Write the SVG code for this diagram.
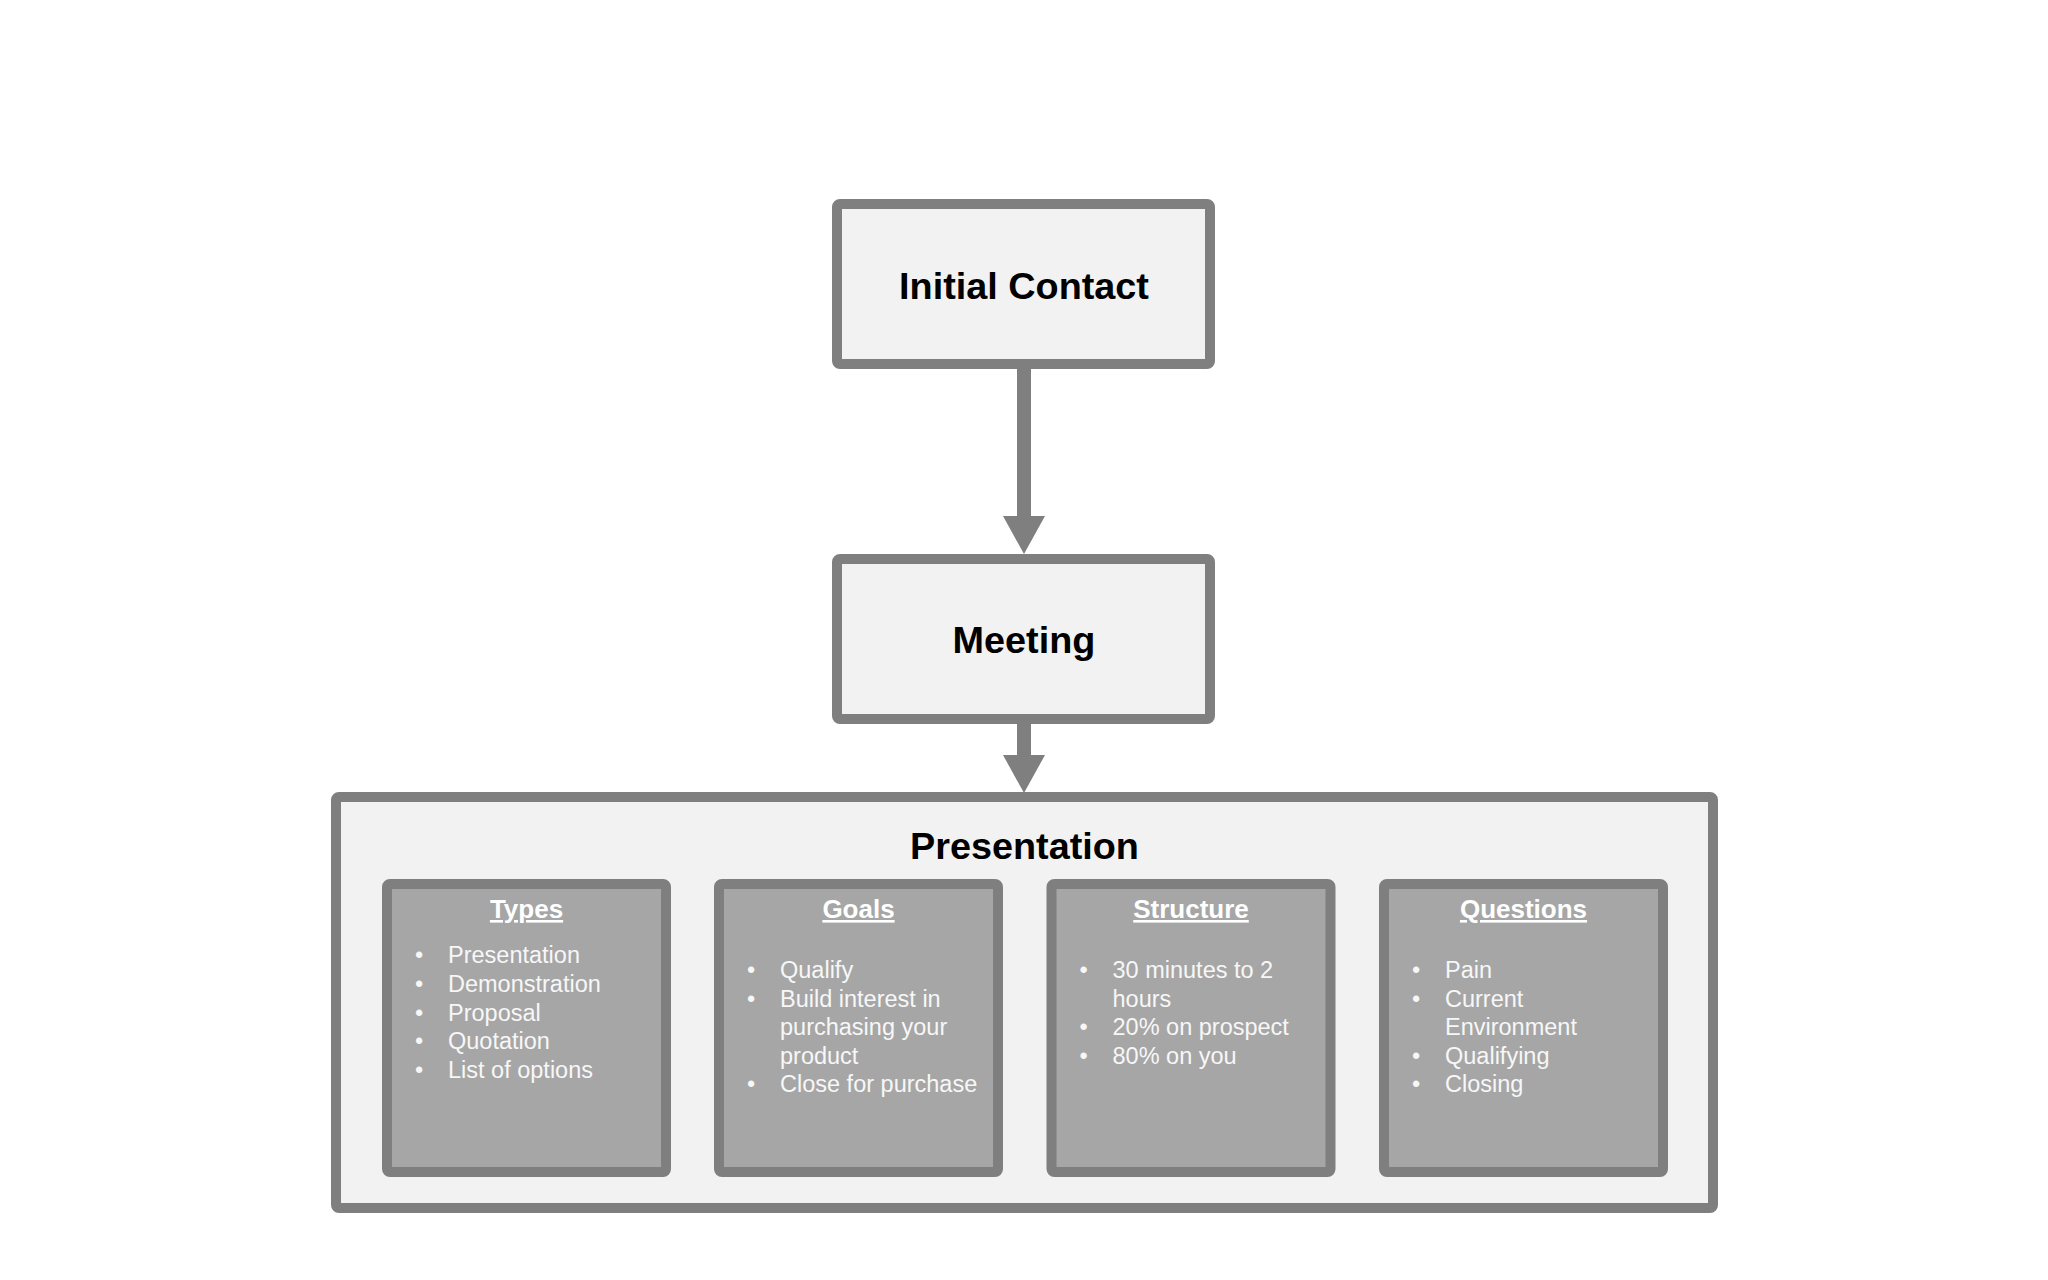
<svg xmlns="http://www.w3.org/2000/svg" width="2048" height="1280" viewBox="0 0 2048 1280">
  <style>
    .box { fill: #f2f2f2; stroke: #7f7f7f; stroke-width: 10; }
    .sub { fill: #a6a6a6; stroke: #7f7f7f; stroke-width: 10; }
    .title { font-family: "Liberation Sans", Arial, sans-serif; font-weight: bold; font-size: 37.8px; fill: #000000; text-anchor: middle; }
    .head { font-family: "Liberation Sans", Arial, sans-serif; font-weight: bold; font-size: 26px; fill: #ffffff; text-anchor: middle; text-decoration: underline; }
    .item { font-family: "Liberation Sans", Arial, sans-serif; font-size: 23.5px; fill: #f7f7f7; }
    .bullet { font-family: "Liberation Sans", Arial, sans-serif; font-size: 23.5px; fill: #f7f7f7; text-anchor: middle; }
    .conn { stroke: #7f7f7f; stroke-width: 14; fill: none; }
  </style>
  <defs>
    <marker id="arrow" markerUnits="userSpaceOnUse" viewBox="0 0 38 42" markerWidth="38" markerHeight="42" refX="0" refY="21" orient="auto">
      <path d="M0,0 L38,21 L0,42 z" fill="#7f7f7f"/>
    </marker>
  </defs>
  <rect width="2048" height="1280" fill="#ffffff"/>

  <g id="connectors">
    <path class="conn" d="M1024,369 L1024,516" marker-end="url(#arrow)"/>
    <path class="conn" d="M1024,724 L1024,755" marker-end="url(#arrow)"/>
  </g>

  <g id="initial-contact">
    <rect class="box" x="837" y="204" width="373" height="160" rx="3"/>
    <text class="title" x="1024" y="299">Initial Contact</text>
  </g>

  <g id="meeting">
    <rect class="box" x="837" y="559" width="373" height="160" rx="3"/>
    <text class="title" x="1024" y="653">Meeting</text>
  </g>

  <g id="presentation">
    <rect class="box" x="336" y="797" width="1377" height="411" rx="3"/>
    <text class="title" x="1024.5" y="859">Presentation</text>
  </g>

  <g id="types">
    <rect class="sub" x="387" y="884" width="279" height="288" rx="3"/>
    <text class="head" x="526.5" y="918">Types</text>
    <text class="bullet" x="419" y="963">•</text><text class="item" x="448" y="963">Presentation</text>
    <text class="bullet" x="419" y="992">•</text><text class="item" x="448" y="992">Demonstration</text>
    <text class="bullet" x="419" y="1021">•</text><text class="item" x="448" y="1021">Proposal</text>
    <text class="bullet" x="419" y="1049">•</text><text class="item" x="448" y="1049">Quotation</text>
    <text class="bullet" x="419" y="1078">•</text><text class="item" x="448" y="1078">List of options</text>
  </g>

  <g id="goals">
    <rect class="sub" x="719" y="884" width="279" height="288" rx="3"/>
    <text class="head" x="858.5" y="918">Goals</text>
    <text class="bullet" x="751" y="978">•</text><text class="item" x="780" y="978">Qualify</text>
    <text class="bullet" x="751" y="1006.5">•</text><text class="item" x="780" y="1006.5">Build interest in</text>
    <text class="item" x="780" y="1035">purchasing your</text>
    <text class="item" x="780" y="1063.5">product</text>
    <text class="bullet" x="751" y="1092">•</text><text class="item" x="780" y="1092">Close for purchase</text>
  </g>

  <g id="structure">
    <rect class="sub" x="1051.5" y="884" width="279" height="288" rx="3"/>
    <text class="head" x="1191" y="918">Structure</text>
    <text class="bullet" x="1083.5" y="978">•</text><text class="item" x="1112.5" y="978">30 minutes to 2</text>
    <text class="item" x="1112.5" y="1006.5">hours</text>
    <text class="bullet" x="1083.5" y="1035">•</text><text class="item" x="1112.5" y="1035">20% on prospect</text>
    <text class="bullet" x="1083.5" y="1063.5">•</text><text class="item" x="1112.5" y="1063.5">80% on you</text>
  </g>

  <g id="questions">
    <rect class="sub" x="1384" y="884" width="279" height="288" rx="3"/>
    <text class="head" x="1523.5" y="918">Questions</text>
    <text class="bullet" x="1416" y="978">•</text><text class="item" x="1445" y="978">Pain</text>
    <text class="bullet" x="1416" y="1006.5">•</text><text class="item" x="1445" y="1006.5">Current</text>
    <text class="item" x="1445" y="1035">Environment</text>
    <text class="bullet" x="1416" y="1063.5">•</text><text class="item" x="1445" y="1063.5">Qualifying</text>
    <text class="bullet" x="1416" y="1092">•</text><text class="item" x="1445" y="1092">Closing</text>
  </g>
</svg>
